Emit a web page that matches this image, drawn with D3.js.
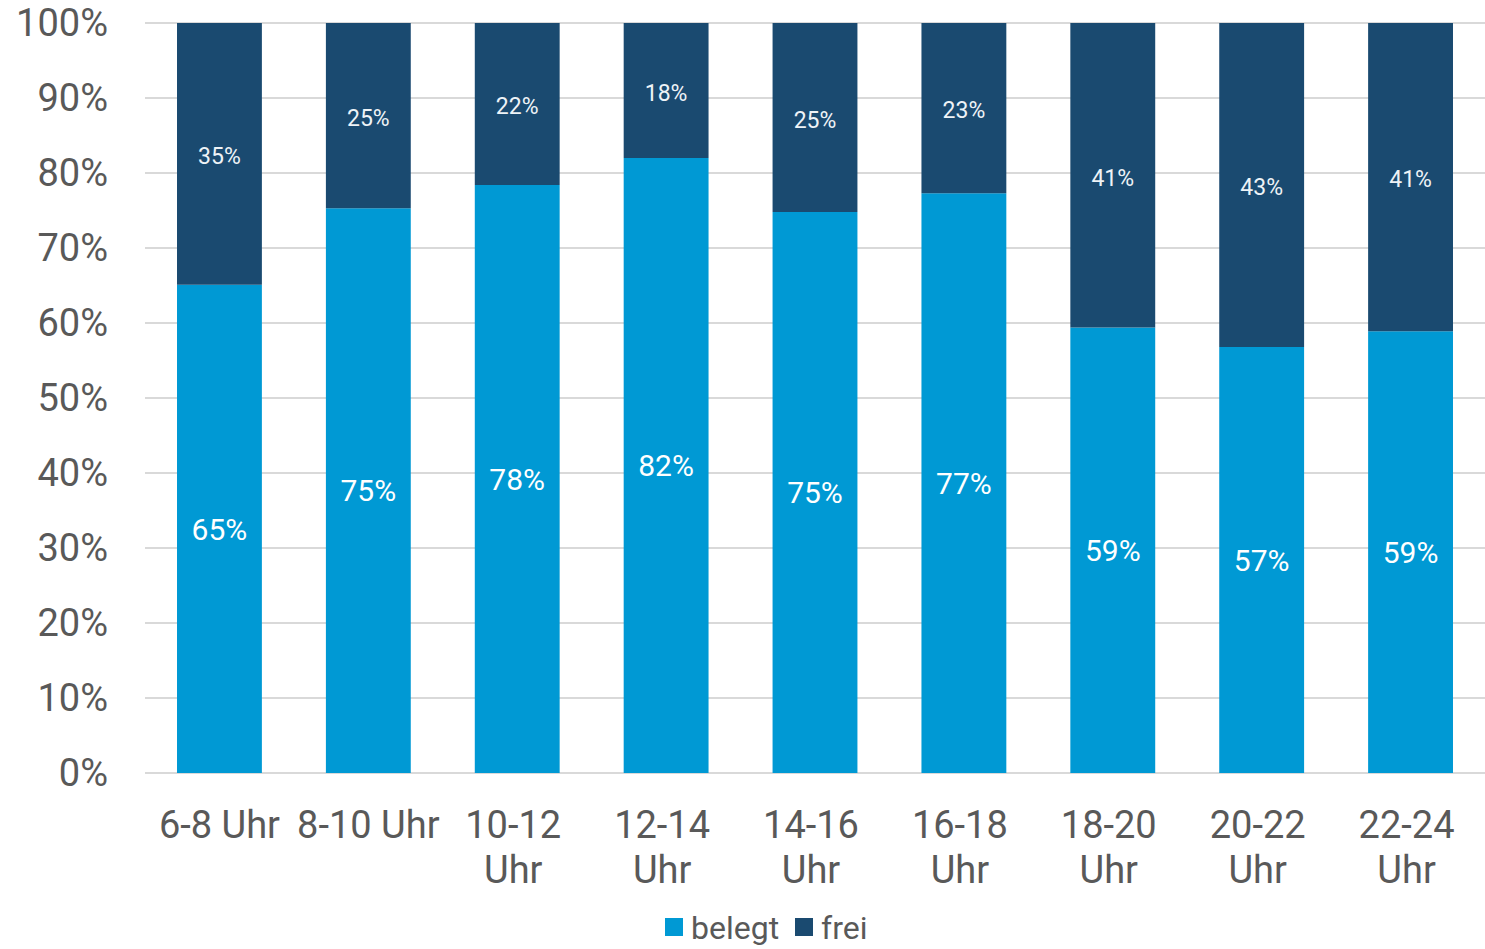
<!DOCTYPE html>
<html>
<head>
<meta charset="utf-8">
<script src="https://cdn.jsdelivr.net/npm/d3@7"></script>
<style>
  body { margin: 0; background: #fff; }
  svg { display: block; font-family: Roboto, sans-serif; }
</style>
</head>
<body>
<script>
// data
const categories = ['6-8 Uhr', '8-10 Uhr', '10-12 Uhr', '12-14 Uhr', '14-16 Uhr', '16-18 Uhr', '18-20 Uhr', '20-22 Uhr', '22-24 Uhr']
const belegt = [65.1, 75.3, 78.4, 82.0, 74.8, 77.3, 59.4, 56.8, 58.9]
const frei = [34.9, 24.7, 21.6, 18.0, 25.2, 22.7, 40.6, 43.2, 41.1]
const yTicks = [0, 10, 20, 30, 40, 50, 60, 70, 80, 90, 100]
const seriesNames = ['belegt', 'frei']

const colors = { belegt: '#0099d4', frei: '#1a4a70' }
const textGrey = '#595959'

const W = 1485, H = 949
const margin = { top: 23, right: 0, bottom: 176, left: 145 }
const width = W - margin.left - margin.right
const height = H - margin.top - margin.bottom

const svg = d3.select('body').append('svg')
	.attr('width', W)
	.attr('height', H)

const g = svg.append('g')
	.attr('transform', 'translate(' + margin.left + ',' + margin.top + ')')

const x = d3.scaleBand()
	.domain(categories)
	.range([0, width])
	.paddingInner(0.43)
	.paddingOuter(0.215)

const y = d3.scaleLinear().domain([0, 100]).range([height, 0])

// gridlines
g.append('g')
	.selectAll('line')
	.data(yTicks)
	.enter().append('line')
	.attr('x1', 0)
	.attr('x2', width)
	.attr('y1', d => y(d))
	.attr('y2', d => y(d))
	.attr('stroke', '#d9d9d9')
	.attr('stroke-width', 2)

// y labels
const yAxis = d3.axisLeft(y).tickValues(yTicks).tickFormat(d => d + '%').tickSize(0).tickPadding(37)
g.append('g')
	.call(yAxis)
	.call(a => a.select('.domain').remove())
	.selectAll('text')
	.attr('font-family', 'Roboto, sans-serif')
	.attr('font-size', 38)
	.attr('fill', textGrey)

// stacked data
const rows = categories.map((c, i) => ({ cat: c, belegt: belegt[i], frei: frei[i] }))
const stack = d3.stack().keys(seriesNames)(rows)

const layers = g.selectAll('.layer')
	.data(stack)
	.enter().append('g')
	.attr('class', 'layer')
	.attr('fill', d => colors[d.key])

layers.selectAll('rect')
	.data(d => d)
	.enter().append('rect')
	.attr('x', d => x(d.data.cat))
	.attr('width', x.bandwidth())
	.attr('y', d => y(d[1]))
	.attr('height', d => y(d[0]) - y(d[1]))

// value labels
layers.each(function(layer) {
	const isBelegt = layer.key === 'belegt'
	d3.select(this).selectAll('text')
		.data(layer)
		.enter().append('text')
		.attr('x', d => x(d.data.cat) + x.bandwidth() / 2)
		.attr('y', d => y((d[0] + d[1]) / 2) + (isBelegt ? 0 : 2))
		.attr('dy', '0.36em')
		.attr('text-anchor', 'middle')
		.attr('font-size', isBelegt ? 30 : 23)
		.attr('fill', isBelegt ? '#ffffff' : '#eef3f7')
		.text(d => Math.round(d.data[layer.key]) + '%')
})

// x labels with wrapping
const xLab = g.append('g')
	.attr('transform', 'translate(0,' + height + ')')
	.selectAll('text')
	.data(categories)
	.enter().append('text')
	.attr('x', d => x(d) + x.bandwidth() / 2)
	.attr('y', 65)
	.attr('text-anchor', 'middle')
	.attr('font-size', 38)
	.attr('fill', textGrey)

xLab.each(function(d) {
	const t = d3.select(this)
	t.text(d)
	if (this.getComputedTextLength() > x.step()) {
		t.text(null)
		const parts = d.split(' ')
		parts.forEach((p, i) => {
			t.append('tspan')
				.attr('x', x(d) + x.bandwidth() / 2 - 4)
				.attr('dy', i === 0 ? 0 : 45)
				.text(p)
		})
	}
})

// legend
const legend = svg.append('g')
	.attr('transform', 'translate(665,918)')

const items = [{ name: 'belegt', x: 0 }, { name: 'frei', x: 130 }]
const li = legend.selectAll('g')
	.data(items)
	.enter().append('g')
	.attr('transform', d => 'translate(' + d.x + ',0)')
li.append('rect')
	.attr('width', 18)
	.attr('height', 18)
	.attr('fill', d => colors[d.name])
li.append('text')
	.attr('x', 26)
	.attr('y', 9)
	.attr('dy', '0.36em')
	.attr('font-size', 32)
	.attr('fill', textGrey)
	.text(d => d.name)
</script>
</body>
</html>
